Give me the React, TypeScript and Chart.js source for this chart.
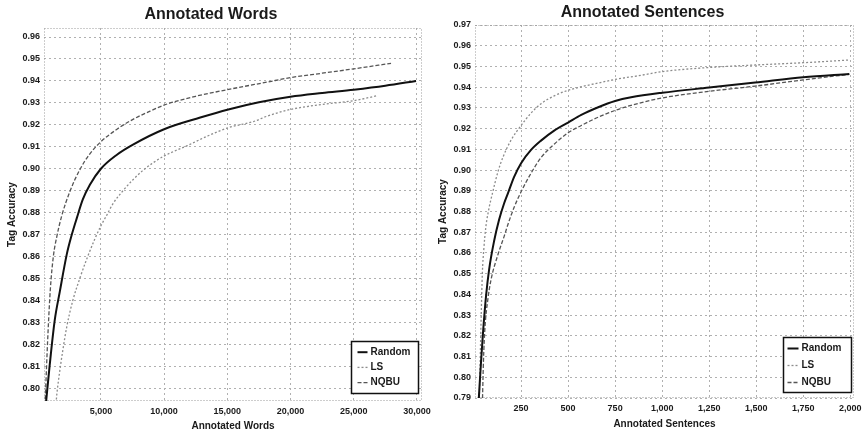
import React, { useEffect, useRef } from "react";
import { Chart, registerables } from "chart.js";

Chart.register(...registerables);

// ---------- Data: Annotated Words ----------
const wordsRandomX = [650, 950, 1350, 1750, 2300, 2700, 3100, 3570, 4130, 5000, 6270, 7540, 10000, 12860, 15080, 17500, 20000, 22500, 25000, 27500, 29930];
const wordsRandomY = [0.793, 0.8105, 0.831, 0.844, 0.861, 0.87, 0.8776, 0.886, 0.8927, 0.9, 0.9064, 0.911, 0.918, 0.9233, 0.927, 0.9303, 0.9328, 0.9345, 0.936, 0.9378, 0.94];

const wordsLSX = [1450, 1510, 1750, 1980, 2300, 2780, 3330, 3890, 4520, 5000, 5480, 5950, 6750, 7540, 8340, 9130, 10000, 11830, 13400, 15080, 17070, 18180, 20000, 22400, 25000, 26900];
const wordsLSY = [0.793, 0.797, 0.808, 0.817, 0.828, 0.84, 0.85, 0.859, 0.868, 0.874, 0.879, 0.884, 0.89, 0.895, 0.8993, 0.9027, 0.9058, 0.9105, 0.9148, 0.9187, 0.9215, 0.924, 0.927, 0.9292, 0.931, 0.9333];

const wordsNQBUX = [600, 790, 1000, 1250, 1510, 1900, 2540, 3330, 4130, 5000, 6270, 7540, 8890, 10000, 12500, 15000, 18180, 20000, 22500, 25000, 27950];
const wordsNQBUY = [0.795, 0.822, 0.845, 0.8605, 0.869, 0.8785, 0.8895, 0.8995, 0.9068, 0.9123, 0.918, 0.9225, 0.9262, 0.929, 0.933, 0.936, 0.9395, 0.9415, 0.9435, 0.9455, 0.948];

const wordsXTicks = [5000, 10000, 15000, 20000, 25000, 30000];
const wordsYTicks = [0.8, 0.81, 0.82, 0.83, 0.84, 0.85, 0.86, 0.87, 0.88, 0.89, 0.9, 0.91, 0.92, 0.93, 0.94, 0.95, 0.96];

// ---------- Data: Annotated Sentences ----------
const sentRandomX = [24, 37, 48, 64, 80, 106, 133, 160, 181, 213, 250, 303, 356, 426, 500, 570, 660, 750, 835, 1000, 1250, 1495, 1750, 1995];
const sentRandomY = [0.788, 0.8074, 0.822, 0.8395, 0.852, 0.8655, 0.876, 0.884, 0.889, 0.8967, 0.9033, 0.9097, 0.9142, 0.919, 0.9229, 0.9266, 0.9303, 0.9333, 0.9351, 0.9373, 0.9398, 0.9422, 0.9448, 0.9464];

const sentLSX = [28, 33, 38, 44, 52, 62, 76, 101, 128, 154, 197, 250, 303, 356, 426, 500, 570, 660, 766, 873, 1000, 1250, 1495, 1750, 1995];
const sentLSY = [0.79, 0.81, 0.83, 0.85, 0.862, 0.872, 0.88, 0.89, 0.8995, 0.9063, 0.9145, 0.9215, 0.9275, 0.932, 0.9358, 0.9385, 0.9402, 0.942, 0.944, 0.9455, 0.9475, 0.9495, 0.9507, 0.9518, 0.9531];

const sentNQBUX = [45, 50, 58, 74, 90, 128, 160, 181, 213, 250, 303, 356, 426, 500, 570, 660, 750, 835, 1000, 1250, 1495, 1750, 1995];
const sentNQBUY = [0.79, 0.808, 0.824, 0.838, 0.847, 0.8595, 0.868, 0.874, 0.882, 0.8895, 0.8985, 0.906, 0.9125, 0.918, 0.9215, 0.9255, 0.9288, 0.9312, 0.9348, 0.938, 0.9405, 0.9435, 0.9462];

const sentXTicks = [250, 500, 750, 1000, 1250, 1500, 1750, 2000];
const sentYTicks = [0.79, 0.8, 0.81, 0.82, 0.83, 0.84, 0.85, 0.86, 0.87, 0.88, 0.89, 0.9, 0.91, 0.92, 0.93, 0.94, 0.95, 0.96, 0.97];

const seriesLabels = ["Random", "LS", "NQBU"];

const FONT = "'Liberation Sans', Arial, sans-serif";
const TEXT = "#1a1a1a";

const seriesStyles = [
  { borderColor: "#111111", borderWidth: 2, borderDash: [] as number[] },
  { borderColor: "#8c8c8c", borderWidth: 1.3, borderDash: [2, 2] },
  { borderColor: "#555555", borderWidth: 1.3, borderDash: [4, 2] },
];

const framePlugin = {
  id: "frame",
  beforeDatasetsDraw(chart: any) {
    const { ctx, chartArea } = chart;
    ctx.save();
    ctx.strokeStyle = "#9a9a9a";
    ctx.lineWidth = 1;
    ctx.setLineDash([1, 2]);
    ctx.strokeRect(
      Math.round(chartArea.left) + 0.5,
      Math.round(chartArea.top) + 0.5,
      Math.round(chartArea.right - chartArea.left) - 1,
      Math.round(chartArea.bottom - chartArea.top) - 1
    );
    ctx.restore();
  },
};

const boxLegendPlugin = {
  id: "boxLegend",
  afterDraw(chart: any, _args: any, opts: any) {
    const { ctx, chartArea } = chart;
    const w = opts.w, h = opts.h;
    const x1 = Math.round(chartArea.right - opts.insetR - w) + 0.5;
    const y1 = Math.round(chartArea.bottom - opts.insetB - h) + 0.5;
    ctx.save();
    ctx.fillStyle = "#ffffff";
    ctx.fillRect(x1, y1, w, h);
    ctx.strokeStyle = "#111";
    ctx.lineWidth = 1.5;
    ctx.setLineDash([]);
    ctx.strokeRect(x1, y1, w, h);
    ctx.font = `bold 10px ${FONT}`;
    ctx.textBaseline = "middle";
    ctx.textAlign = "left";
    chart.data.datasets.forEach((ds: any, i: number) => {
      const y = y1 + opts.first + i * opts.step;
      ctx.strokeStyle = ds.borderColor;
      ctx.lineWidth = ds.borderWidth;
      ctx.setLineDash(ds.borderDash || []);
      ctx.beginPath();
      ctx.moveTo(x1 + opts.lineX0, y);
      ctx.lineTo(x1 + opts.lineX1, y);
      ctx.stroke();
      ctx.fillStyle = TEXT;
      ctx.fillText(ds.label, x1 + opts.textX, y);
    });
    ctx.restore();
  },
};

function buildConfig(p: any) {
  const datasets = p.series.map((s: any, i: number) => ({
    label: seriesLabels[i],
    data: s.xs.map((x: number, j: number) => ({ x, y: s.ys[j] })),
    borderColor: seriesStyles[i].borderColor,
    borderWidth: seriesStyles[i].borderWidth,
    borderDash: seriesStyles[i].borderDash,
    pointRadius: 0,
    fill: false,
    cubicInterpolationMode: "monotone",
  }));
  return {
    type: "line",
    data: { datasets },
    options: {
      animation: false,
      responsive: false,
      layout: { padding: { left: 0, right: p.rightPad, top: 0, bottom: 0 } },
      plugins: {
        legend: { display: false },
        tooltip: { enabled: false },
        title: {
          display: true,
          text: p.title,
          color: TEXT,
          font: { family: FONT, size: 16, weight: "bold" },
          padding: { top: p.titleTop, bottom: p.titleBottom },
        },
        boxLegend: p.legend,
      },
      scales: {
        x: {
          type: "linear",
          min: p.xMin,
          max: p.xMax,
          afterBuildTicks: (s: any) => {
            s.ticks = p.xTicks.map((v: number) => ({ value: v }));
          },
          afterFit: (s: any) => {
            s.height = p.xAxisHeight;
            s.paddingLeft = 0;
            s.paddingRight = 0;
          },
          grid: { color: "#b0b0b0", lineWidth: 1, drawTicks: false },
          border: { display: false, dash: [2, 3] },
          ticks: {
            autoSkip: false,
            maxRotation: 0,
            padding: 5,
            color: TEXT,
            font: { family: FONT, size: 9, weight: "bold" },
            callback: (v: number) => Number(v).toLocaleString("en-US"),
          },
          title: {
            display: true,
            text: p.xTitle,
            color: TEXT,
            font: { family: FONT, size: 10, weight: "bold" },
            padding: { top: 0, bottom: p.xTitlePad },
          },
        },
        y: {
          type: "linear",
          min: p.yMin,
          max: p.yMax,
          afterBuildTicks: (s: any) => {
            s.ticks = p.yTicks.map((v: number) => ({ value: v }));
          },
          afterFit: (s: any) => {
            s.width = 44;
            s.paddingTop = 0;
            s.paddingBottom = 0;
          },
          grid: { color: "#b0b0b0", lineWidth: 1, drawTicks: false },
          border: { display: false, dash: [2, 3] },
          ticks: {
            autoSkip: false,
            padding: 4,
            color: TEXT,
            font: { family: FONT, size: 9, weight: "bold" },
            callback: (v: number) => Number(v).toFixed(2),
          },
          title: {
            display: true,
            text: "Tag Accuracy",
            color: TEXT,
            font: { family: FONT, size: 10, weight: "bold" },
            padding: { top: 6, bottom: 0 },
          },
        },
      },
    },
    plugins: [framePlugin, boxLegendPlugin],
  };
}

function ChartCanvas({ params, left }: { params: any; left: number }) {
  const ref = useRef<HTMLCanvasElement | null>(null);
  useEffect(() => {
    if (!ref.current) return;
    const chart = new Chart(ref.current, buildConfig(params) as any);
    return () => chart.destroy();
  }, [params]);
  return (
    <canvas
      ref={ref}
      width={431}
      height={435}
      style={{ position: "absolute", left, top: 0, width: 431, height: 435, display: "block" }}
    />
  );
}

const wordsParams = {
  title: "Annotated Words",
  xTitle: "Annotated Words",
  xMin: 500,
  xMax: 30400,
  yMin: 0.7942,
  yMax: 0.9641,
  xTicks: wordsXTicks,
  yTicks: wordsYTicks,
  rightPad: 9,
  titleTop: 5,
  titleBottom: 3.8,
  xAxisHeight: 34,
  xTitlePad: 3,
  series: [
    { xs: wordsRandomX, ys: wordsRandomY },
    { xs: wordsLSX, ys: wordsLSY },
    { xs: wordsNQBUX, ys: wordsNQBUY },
  ],
  legend: { w: 67, h: 52, insetR: 4, insetB: 8, first: 10.7, step: 15.2, lineX0: 6, lineX1: 16, textX: 19 },
};

const sentParams = {
  title: "Annotated Sentences",
  xTitle: "Annotated Sentences",
  xMin: 5,
  xMax: 2020,
  yMin: 0.79,
  yMax: 0.97,
  xTicks: sentXTicks,
  yTicks: sentYTicks,
  rightPad: 8,
  titleTop: 3,
  titleBottom: 2.8,
  xAxisHeight: 37,
  xTitlePad: 5,
  series: [
    { xs: sentRandomX, ys: sentRandomY },
    { xs: sentLSX, ys: sentLSY },
    { xs: sentNQBUX, ys: sentNQBUY },
  ],
  legend: { w: 68, h: 55, insetR: 3, insetB: 6, first: 11, step: 17, lineX0: 4, lineX1: 15, textX: 18 },
};

export default function App() {
  return (
    <div style={{ position: "absolute", left: 0, top: 0, width: 862, height: 435, background: "#fff" }}>
      <ChartCanvas params={wordsParams} left={0} />
      <ChartCanvas params={sentParams} left={431} />
    </div>
  );
}
